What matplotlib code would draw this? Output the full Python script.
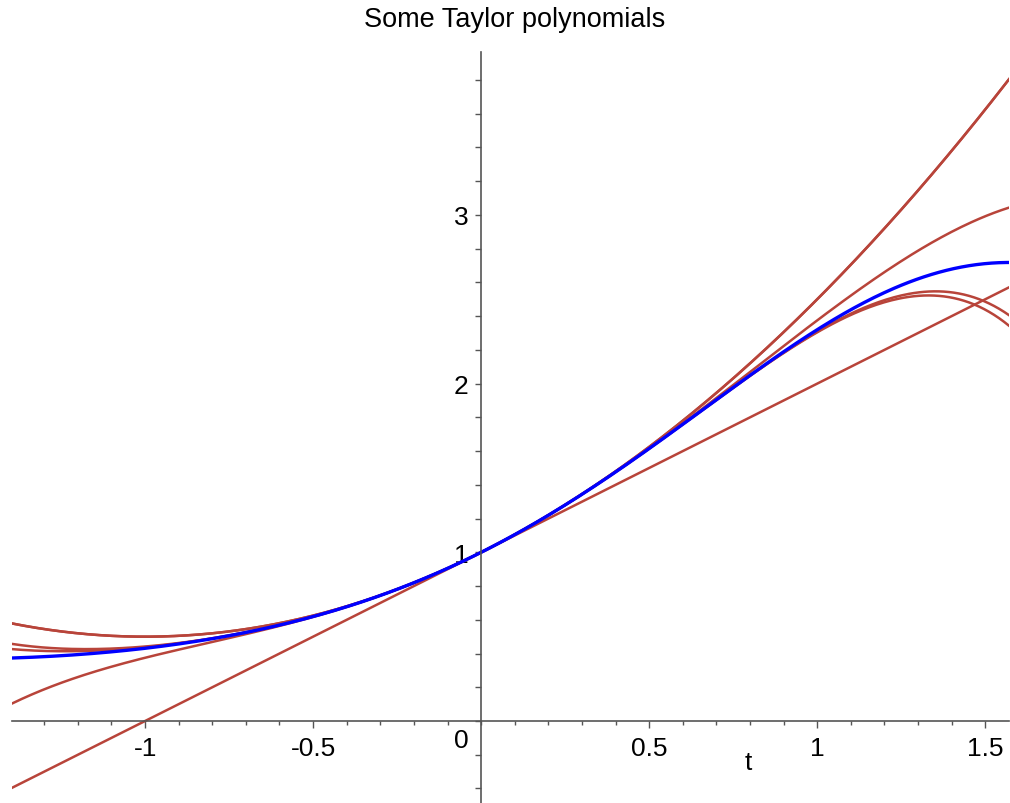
import numpy as np
import matplotlib.pyplot as plt
from matplotlib.ticker import MultipleLocator, FixedLocator

plt.rcParams['font.family'] = ['Liberation Sans', 'DejaVu Sans']

# domain of the plot (left part cropped in the reference)
t_start, t_end = -1.396, np.pi / 2

# Taylor polynomials of exp(sin t) about t = 0, coefficients from t^0 upward
taylor_coefs = [
    [1, 1],
    [1, 1, 1 / 2],
    [1, 1, 1 / 2, 0],
    [1, 1, 1 / 2, 0, -1 / 8],
    [1, 1, 1 / 2, 0, -1 / 8, -1 / 15],
    [1, 1, 1 / 2, 0, -1 / 8, -1 / 15, -1 / 240],
]

x_ticks = [-1, -0.5, 0.5, 1, 1.5]
x_tick_labels = ["-1", "-0.5", "0.5", "1", "1.5"]
y_ticks = [1, 2, 3]
y_tick_labels = ["1", "2", "3"]

red = "#B8443A"
blue = "#0000FF"
axis_col = "#555555"

W, H = 1010, 804
fig = plt.figure(figsize=(W / 100, H / 100), dpi=100)
ax = fig.add_axes([12 / W, 0, (1009 - 12) / W, (804 - 53) / H])
ax.set_xlim(t_start, t_end)
ax.set_ylim(-0.486, 3.966)
ax.set_axisbelow(True)

t = np.linspace(t_start, t_end, 400)
for c in taylor_coefs:
    ax.plot(t, np.polynomial.polynomial.polyval(t, c), color=red, lw=1.8)
ax.plot(t, np.exp(np.sin(t)), color=blue, lw=2.4)

for s in ["top", "right"]:
    ax.spines[s].set_visible(False)
ax.spines["left"].set_position(("data", 0))
ax.spines["bottom"].set_position(("data", 0))
for s in ["left", "bottom"]:
    ax.spines[s].set_color(axis_col)
    ax.spines[s].set_linewidth(1.2)

ax.xaxis.set_major_locator(FixedLocator(x_ticks))
ax.set_xticklabels(x_tick_labels)
ax.xaxis.set_minor_locator(MultipleLocator(0.1))
ax.yaxis.set_major_locator(FixedLocator(y_ticks))
ax.set_yticklabels(y_tick_labels)
ax.yaxis.set_minor_locator(MultipleLocator(0.2))

ax.tick_params(axis="x", which="major", direction="out", length=5, width=1,
               color=axis_col, labelsize=19, pad=6)
ax.tick_params(axis="x", which="minor", direction="out", length=3, width=1,
               color=axis_col)
ax.tick_params(axis="y", which="major", direction="out", length=4, width=1,
               color=axis_col, labelsize=19, pad=5)
ax.tick_params(axis="y", which="minor", direction="out", length=4, width=1,
               color=axis_col)

ax.text(-0.06, -0.04, "0", fontsize=19, ha="center", va="top")
ax.text(0.795, -0.17, "t", fontsize=19, ha="center", va="top")

fig.text(515 / W, 1 - 20 / H, "Some Taylor polynomials", fontsize=19.5,
         ha="center", va="center")

fig.savefig("out.png", dpi=100)
